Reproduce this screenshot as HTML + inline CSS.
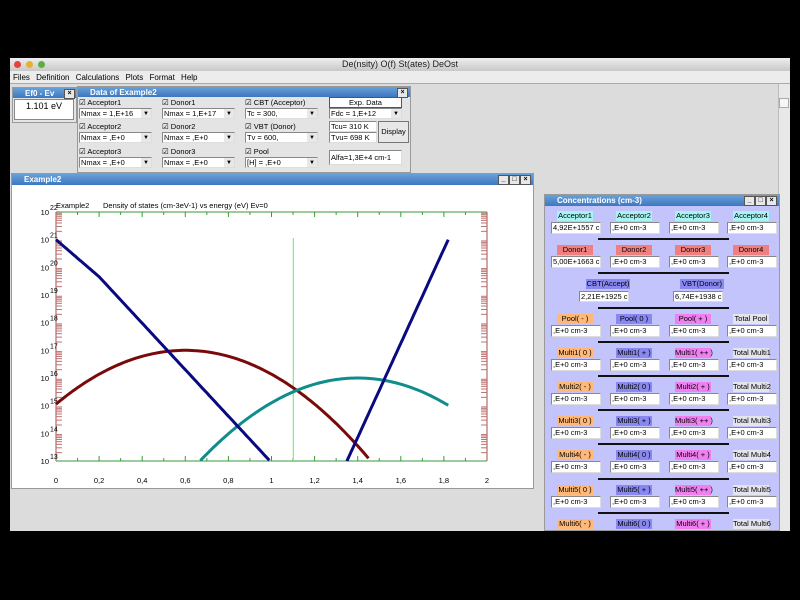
<!DOCTYPE html>
<html><head><meta charset="utf-8"><style>
body{margin:0;width:800px;height:600px;background:#000;position:relative;overflow:hidden;font-family:"Liberation Sans",sans-serif;font-size:8px;color:#000}
.a{position:absolute;box-sizing:border-box}
.tb{background:linear-gradient(#6aa0d8,#3c78c0);color:#fff;font-weight:bold;font-size:8px;line-height:11px;padding-left:12px}
.x{position:absolute;width:9px;height:8px;background:#e8e8e8;border:1px solid #555;font-size:7px;line-height:7px;text-align:center;color:#000;top:1px}
.in{background:#fff;border:1px solid #888;border-right-color:#ddd;border-bottom-color:#ddd;font-size:7.5px;line-height:10px;padding-left:1px;white-space:nowrap;overflow:hidden}
.cb{font-size:7.5px;line-height:10px}
.lb{font-size:7.5px;line-height:10px;text-align:center;white-space:nowrap}
.sep{position:absolute;height:2px;background:#111;left:598px;width:131px}
</style></head><body>
<div class="a" style="left:10px;top:58px;width:780px;height:473px;background:#dcdcdc"></div>
<div class="a" style="left:10px;top:58px;width:780px;height:13px;background:linear-gradient(#eee,#c8c8c8);font-size:9px;line-height:13px;text-align:center;color:#222">De(nsity) O(f) St(ates) DeOst</div>
<div class="a" style="left:14px;top:61px;width:7px;height:7px;border-radius:50%;background:#e0443a"></div>
<div class="a" style="left:26px;top:61px;width:7px;height:7px;border-radius:50%;background:#e8b030"></div>
<div class="a" style="left:38px;top:61px;width:7px;height:7px;border-radius:50%;background:#5cb040"></div>
<div class="a" style="left:10px;top:71px;width:780px;height:13px;background:#ececec;font-size:8px;line-height:13px;padding-left:3px;border-bottom:1px solid #aaa;word-spacing:4px">Files Definition Calculations Plots Format Help</div>
<div class="a" style="left:778px;top:84px;width:12px;height:447px;background:#e8e8e8;border-left:1px solid #bbb"></div>
<div class="a" style="left:779px;top:98px;width:10px;height:10px;background:#f6f6f6;border:1px solid #aaa"></div>

<div class="a" style="left:12px;top:87px;width:65px;height:36px;background:#e4e4e4;border:1px solid #999"></div>
<div class="a tb" style="left:13px;top:88px;width:63px;height:10px">Ef0 - Ev<div class="x" style="right:1px">×</div></div>
<div class="a" style="left:14px;top:99px;width:60px;height:21px;background:#fff;border:1px solid #888;font-size:9px;text-align:center;line-height:12px">1.101 eV</div>

<div class="a" style="left:77px;top:86px;width:334px;height:87px;background:#e4e4e4;border:1px solid #999"></div>
<div class="a tb" style="left:78px;top:87px;width:332px;height:10px">Data of Example2<div class="x" style="right:2px">×</div></div>
<div id="data"></div>
<div class="a" style="left:329px;top:97px;width:73px;height:11px;background:#fff;border:1px solid #555;font-size:7.5px;text-align:center;line-height:9px">Exp. Data</div>
<div class="a in" style="left:329px;top:121px;width:48px;height:11px">Tcu= 310 K</div>
<div class="a in" style="left:329px;top:132px;width:48px;height:11px">Tvu= 698 K</div>
<div class="a" style="left:378px;top:121px;width:31px;height:22px;background:#e8e8e8;border:1px solid #777;font-size:7.5px;text-align:center;line-height:20px">Display</div>
<div class="a in" style="left:329px;top:150px;width:73px;height:15px;line-height:13px">Alfa=1,3E+4 cm-1</div>

<div class="a" style="left:11px;top:173px;width:523px;height:316px;background:#fff;border:1px solid #999"></div>
<div class="a tb" style="left:12px;top:174px;width:521px;height:11px">Example2
<div class="x" style="right:24px">_</div><div class="x" style="right:13px">□</div><div class="x" style="right:2px">×</div></div>
<svg class="a" style="left:0;top:0" width="800" height="600" id="ch">
<g font-family="Liberation Sans" font-size="7.5" fill="#000">
<text x="56" y="208">Example2</text>
<text x="103" y="208">Density of states (cm-3eV-1) vs energy (eV)   Ev=0</text>
</g>
</svg>

<div class="a" style="left:544px;top:194px;width:236px;height:337px;background:#c4c4fc;border:1px solid #999"></div>
<div class="a tb" style="left:545px;top:195px;width:234px;height:11px">Concentrations (cm-3)
<div class="x" style="right:24px">_</div><div class="x" style="right:13px">□</div><div class="x" style="right:2px">×</div></div>
<div id="conc"></div>
<div class="a" style="left:0;top:531px;width:800px;height:69px;background:#000"></div>

<script>
var d='';var cols=[79,162,245];
var lbl=[["Acceptor1","Donor1","CBT (Acceptor)"],["Acceptor2","Donor2","VBT (Donor)"],["Acceptor3","Donor3","Pool"]];
var cmb=[["Nmax = 1,E+16","Nmax = 1,E+17","Tc   = 300,"],["Nmax = ,E+0","Nmax = ,E+0","Tv   = 600,"],["Nmax = ,E+0","Nmax = ,E+0","[H]  = ,E+0"]];
var ry=[98,122,147];
for(var r=0;r<3;r++)for(var c=0;c<3;c++){
d+='<div class="a cb" style="left:'+cols[c]+'px;top:'+ry[r]+'px">&#9745; '+lbl[r][c]+'</div>';
d+='<div class="a in" style="left:'+cols[c]+'px;top:'+(ry[r]+10)+'px;width:73px;height:11px">'+cmb[r][c]+'<span style="position:absolute;right:0;top:0;width:10px;height:9px;background:#e8e8e8;text-align:center;font-size:6px">&#9660;</span></div>';}
d+='<div class="a in" style="left:329px;top:108px;width:73px;height:11px">Fdc  = 1,E+12<span style="position:absolute;right:0;top:0;width:10px;height:9px;background:#e8e8e8;text-align:center;font-size:6px">&#9660;</span></div>';
document.getElementById('data').innerHTML=d;
var cx=[551,610,669,727],h='';
var P='#ffb878',B='#8888f0',M='#f080f0',W='#e4e4ec';
var rows=[
[["Acceptor1","#a8f4f4"],["Acceptor2","#a8f4f4"],["Acceptor3","#a8f4f4"],["Acceptor4","#a8f4f4"]],
[["Donor1","#f08080"],["Donor2","#f08080"],["Donor3","#f08080"],["Donor4","#f08080"]],
null,
[["Pool( - )",P],["Pool( 0 )",B],["Pool( + )",M],["Total Pool",W]],
[["Multi1( 0 )",P],["Multi1( + )",B],["Multi1( ++ )",M],["Total Multi1",W]],
[["Multi2( - )",P],["Multi2( 0 )",B],["Multi2( + )",M],["Total Multi2",W]],
[["Multi3( 0 )",P],["Multi3( + )",B],["Multi3( ++ )",M],["Total Multi3",W]],
[["Multi4( - )",P],["Multi4( 0 )",B],["Multi4( + )",M],["Total Multi4",W]],
[["Multi5( 0 )",P],["Multi5( + )",B],["Multi5( ++ )",M],["Total Multi5",W]],
[["Multi6( - )",P],["Multi6( 0 )",B],["Multi6( + )",M],["Total Multi6",W]]];
for(var i=0;i<rows.length;i++){
var y=211+i*34.2;
if(i>0)h+='<div class="sep" style="top:'+Math.round(y-7)+'px"></div>';
if(rows[i]==null){
 h+='<div class="a lb" style="left:586px;top:'+Math.round(y)+'px;width:44px;background:#8888f0">CBT(Accept)</div>';
 h+='<div class="a lb" style="left:680px;top:'+Math.round(y)+'px;width:44px;background:#8888f0">VBT(Donor)</div>';
 h+='<div class="a in" style="left:579px;top:'+Math.round(y+12)+'px;width:50px;height:11px">2,21E+1925 cm-3</div>';
 h+='<div class="a in" style="left:673px;top:'+Math.round(y+12)+'px;width:50px;height:11px">6,74E+1938 cm-3</div>';
 continue;}
for(var c=0;c<4;c++){
 var t=rows[i][c];
 h+='<div class="a lb" style="left:'+(cx[c]+6)+'px;top:'+Math.round(y)+'px;width:36px;background:'+t[1]+'">'+t[0]+'</div>';
 if(i<9){var v=',E+0 cm-3';if(c==0&&i==0)v='4,92E+1557 cm';if(c==0&&i==1)v='5,00E+1663 cm';
 h+='<div class="a in" style="left:'+cx[c]+'px;top:'+Math.round(y+11)+'px;width:50px;height:12px">'+v+'</div>';}
}}
document.getElementById('conc').innerHTML=h;
var s='',X0=56,X1=487,Y0=212,Y1=461;
function px(e){return X0+e*(X1-X0)/2}
function py(l){return Y0+(22-l)*(Y1-Y0)/9}
s+='<line x1="'+X0+'" y1="'+Y0+'" x2="'+X1+'" y2="'+Y0+'" stroke="#3a9a3a"/>';
s+='<line x1="'+X0+'" y1="'+Y1+'" x2="'+X1+'" y2="'+Y1+'" stroke="#3a9a3a"/>';
s+='<line x1="'+X0+'" y1="'+Y0+'" x2="'+X0+'" y2="'+Y1+'" stroke="#a05050"/>';
s+='<line x1="'+X1+'" y1="'+Y0+'" x2="'+X1+'" y2="'+Y1+'" stroke="#a05050"/>';
for(var k=1;k<20;k++){var xx=px(k*0.1),L=k%2?3:5;
s+='<line x1="'+xx+'" y1="'+Y0+'" x2="'+xx+'" y2="'+(Y0+L)+'" stroke="#3a9a3a"/>';
s+='<line x1="'+xx+'" y1="'+Y1+'" x2="'+xx+'" y2="'+(Y1-L)+'" stroke="#3a9a3a"/>';}
for(var k=0;k<=10;k++){var lab=(k*0.2).toFixed(1).replace('.',',').replace(',0','');if(k==0)lab='0';
s+='<text x="'+px(k*0.2)+'" y="483" font-size="7.5" text-anchor="middle" font-family="Liberation Sans">'+lab+'</text>';}
for(var dd=13;dd<=22;dd++){var yy=py(dd);
s+='<text x="49" y="'+(yy+3)+'" font-size="7.5" text-anchor="end" font-family="Liberation Sans">10</text><text x="50" y="'+(yy-2)+'" font-size="7" font-family="Liberation Sans">'+dd+'</text>';
if(dd<22)for(var m=2;m<10;m++){var ym=py(dd+Math.log10(m));
s+='<line x1="'+X0+'" y1="'+ym+'" x2="'+(X0+6)+'" y2="'+ym+'" stroke="#c07070"/>';
s+='<line x1="'+(X1-6)+'" y1="'+ym+'" x2="'+X1+'" y2="'+ym+'" stroke="#c07070"/>';}}
s+='<line x1="'+px(1.101)+'" y1="238" x2="'+px(1.101)+'" y2="'+Y1+'" stroke="#70e070"/>';
function pl(f,a,b,col){var p=[];for(var e=a;e<=b+1e-9;e+=0.01)p.push(px(e).toFixed(1)+','+py(f(e)).toFixed(1));
return '<polyline points="'+p.join(' ')+'" fill="none" stroke="'+col+'" stroke-width="3"/>';}
s+=pl(function(e){return 17-5.4*(e-0.6)*(e-0.6)},0,1.45,'#7a0a0a');
s+=pl(function(e){return 16-5.6*(e-1.4)*(e-1.4)},0.67,1.82,'#108c8c');
s+=pl(function(e){return e<0.2?21-6.7*e:19.66-(e-0.2)*8.4},0,0.99,'#0a0a80');
s+=pl(function(e){return 13+(e-1.35)*8/0.47},1.35,1.82,'#0a0a80');
document.getElementById('ch').insertAdjacentHTML('beforeend',s);
</script>
</body></html>
